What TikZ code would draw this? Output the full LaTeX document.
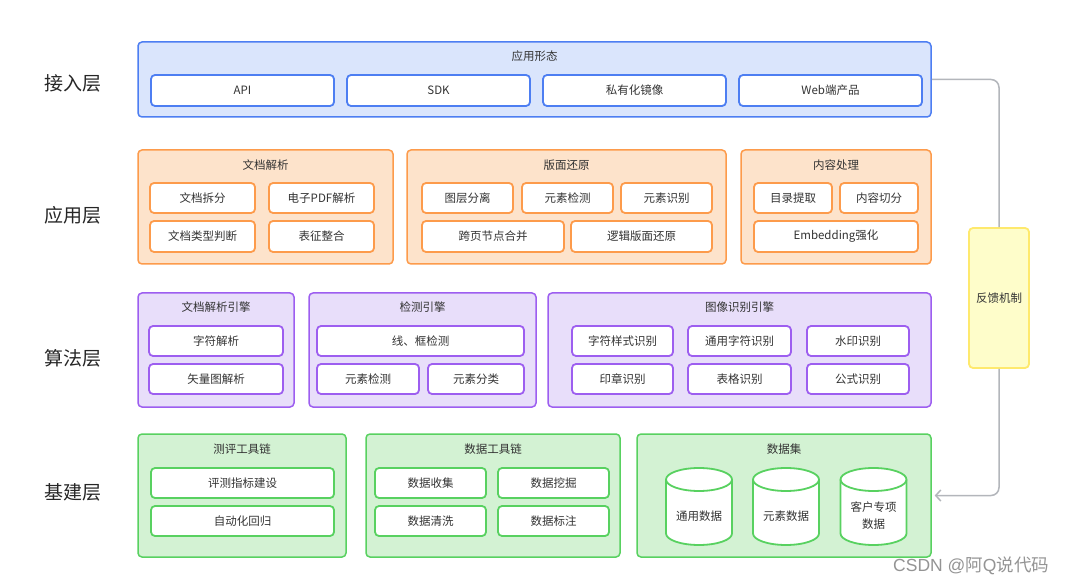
\documentclass[tikz,border=0pt]{standalone}
\usepackage{fontspec}
\setmainfont{Noto Sans CJK SC}
\newfontfamily\wmlat{Liberation Sans}
\usetikzlibrary{fit,arrows.meta}
\definecolor{blueB}{HTML}{4D7EF2}
\definecolor{blueF}{HTML}{DAE5FC}
\definecolor{orgB}{HTML}{FD9B4B}
\definecolor{orgF}{HTML}{FDE3CB}
\definecolor{purB}{HTML}{9D5EF0}
\definecolor{purF}{HTML}{E8DEFA}
\definecolor{grnB}{HTML}{58D160}
\definecolor{grnF}{HTML}{D3F2D3}
\definecolor{yelB}{HTML}{FEE96D}
\definecolor{yelF}{HTML}{FEFDCA}
\definecolor{lineG}{HTML}{B3B6BB}
\definecolor{txtC}{HTML}{333333}
\newcommand\bx[7]{\node[#6, fit={(#2,#3) (#4,#5)}] (#1) {};
  \node[txt] (#1t) at (#1.center) {#7};}
\newcommand\cylx[3]{%
  \draw[cylS] (#1-33,479.5) -- (#1-33,533.5) arc[start angle=180,end angle=360,x radius=33pt,y radius=11.5pt] -- (#1+33,479.5) arc[start angle=0,end angle=180,x radius=33pt,y radius=11.5pt] -- cycle;
  \draw[cylS, fill=none] (#1-33,479.5) arc[start angle=180,end angle=360,x radius=33pt,y radius=11.5pt];
  \node[txt, align=center] (#2) at (#1,516) {#3};}
\tikzset{
  txt/.style={text=txtC, font=\fontsize{11.5}{17}\selectfont, inner sep=0pt},
  base/.style={inner sep=0pt, rounded corners=4pt},
  oBlue/.style={base, draw=blueB, fill=blueF, line width=1.5pt},
  iBlue/.style={base, draw=blueB, fill=white, line width=1.8pt},
  oOrg/.style={base, draw=orgB, fill=orgF, line width=1.5pt},
  iOrg/.style={base, draw=orgB, fill=white, line width=1.8pt},
  oPur/.style={base, draw=purB, fill=purF, line width=1.5pt},
  iPur/.style={base, draw=purB, fill=white, line width=1.8pt},
  oGrn/.style={base, draw=grnB, fill=grnF, line width=1.5pt},
  iGrn/.style={base, draw=grnB, fill=white, line width=1.8pt},
  cylS/.style={draw=grnB, fill=white, line width=1.8pt},
  fbS/.style={base, draw=yelB, fill=yelF, line width=1.8pt},
  layer/.style={text=black!85, font=\fontsize{19}{22}\selectfont, inner sep=0pt},
  fl/.style={draw=lineG, line width=1.5pt, rounded corners=8pt},
}
\begin{document}
\begin{tikzpicture}[x=1pt,y=-1pt]
\useasboundingbox[fill=white] (0,0) rectangle (1068,585);
% layer labels
\node[layer] (L1) at (73,83) {接入层};
\node[layer] (L2) at (73,215) {应用层};
\node[layer] (L3) at (73,358) {算法层};
\node[layer] (L4) at (73,492) {基建层};
% access layer
\bx{acc}{138}{42}{931}{117}{oBlue}{}
\node[txt] (accT) at (534.5,56) {应用形态};
\bx{api}{151}{75}{334}{106}{iBlue}{API}
\bx{sdk}{347}{75}{530}{106}{iBlue}{SDK}
\bx{priv}{543}{75}{726}{106}{iBlue}{私有化镜像}
\bx{web}{739}{75}{922}{106}{iBlue}{Web端产品}
% application layer
\bx{doc}{138}{150}{393}{264}{oOrg}{}
\node[txt] (docT) at (265.5,165) {文档解析};
\bx{d1}{150}{183}{255}{213}{iOrg}{文档拆分}
\bx{d2}{269}{183}{374}{213}{iOrg}{电子PDF解析}
\bx{d3}{150}{221}{255}{252}{iOrg}{文档类型判断}
\bx{d4}{269}{221}{374}{252}{iOrg}{表征整合}
\bx{lay}{407}{150}{726}{264}{oOrg}{}
\node[txt] (layT) at (566.5,165) {版面还原};
\bx{l1}{422}{183}{513}{213}{iOrg}{图层分离}
\bx{l2}{522}{183}{613}{213}{iOrg}{元素检测}
\bx{l3}{621}{183}{712}{213}{iOrg}{元素识别}
\bx{l4}{422}{221}{564}{252}{iOrg}{跨页节点合并}
\bx{l5}{571}{221}{712}{252}{iOrg}{逻辑版面还原}
\bx{cnt}{741}{150}{931}{264}{oOrg}{}
\node[txt] (cntT) at (836,165) {内容处理};
\bx{c1}{754}{183}{832}{213}{iOrg}{目录提取}
\bx{c2}{840}{183}{918}{213}{iOrg}{内容切分}
\bx{c3}{754}{221}{918}{252}{iOrg}{Embedding强化}
% algorithm layer
\bx{e1}{138}{293}{294}{407}{oPur}{}
\node[txt] (e1T) at (216,307) {文档解析引擎};
\bx{e1a}{149}{326}{283}{356}{iPur}{字符解析}
\bx{e1b}{149}{364}{283}{394}{iPur}{矢量图解析}
\bx{e2}{309}{293}{536}{407}{oPur}{}
\node[txt] (e2T) at (422.5,307) {检测引擎};
\bx{e2a}{317}{326}{524}{356}{iPur}{线、框检测}
\bx{e2b}{317}{364}{419}{394}{iPur}{元素检测}
\bx{e2c}{428}{364}{524}{394}{iPur}{元素分类}
\bx{e3}{548}{293}{931}{407}{oPur}{}
\node[txt] (e3T) at (739.5,307) {图像识别引擎};
\bx{e3a}{572}{326}{673}{356}{iPur}{字符样式识别}
\bx{e3b}{688}{326}{791}{356}{iPur}{通用字符识别}
\bx{e3c}{807}{326}{909}{356}{iPur}{水印识别}
\bx{e3d}{572}{364}{673}{394}{iPur}{印章识别}
\bx{e3e}{688}{364}{791}{394}{iPur}{表格识别}
\bx{e3f}{807}{364}{909}{394}{iPur}{公式识别}
% infrastructure layer
\bx{t1}{138}{434}{346}{557}{oGrn}{}
\node[txt] (t1T) at (242,449) {测评工具链};
\bx{t1a}{151}{468}{334}{498}{iGrn}{评测指标建设}
\bx{t1b}{151}{506}{334}{536}{iGrn}{自动化回归}
\bx{t2}{366}{434}{620}{557}{oGrn}{}
\node[txt] (t2T) at (493,449) {数据工具链};
\bx{t2a}{375}{468}{486}{498}{iGrn}{数据收集}
\bx{t2b}{498}{468}{609}{498}{iGrn}{数据挖掘}
\bx{t2c}{375}{506}{486}{536}{iGrn}{数据清洗}
\bx{t2d}{498}{506}{609}{536}{iGrn}{数据标注}
\bx{t3}{637}{434}{931}{557}{oGrn}{}
\node[txt] (t3T) at (784,449) {数据集};
\cylx{699}{cy1}{通用数据}
\cylx{786}{cy2}{元素数据}
\cylx{873.5}{cy3}{客户专项\\数据}
% feedback
\bx{fb}{969}{228}{1029}{368}{fbS}{反馈机制}
\draw[fl] (acc.east) -| (fb.north);
\draw[fl, -{Straight Barb[length=5pt,width=11pt,line width=1.5pt]}, shorten >=3pt] (fb.south) |- (t3.east);
% watermark
\node[text=black!42, font=\fontsize{17.5}{20}\selectfont, inner sep=0pt, anchor=west] (wm) at (893,566) {{\wmlat CSDN @}阿{\wmlat Q}说代码};
\end{tikzpicture}
\end{document}
